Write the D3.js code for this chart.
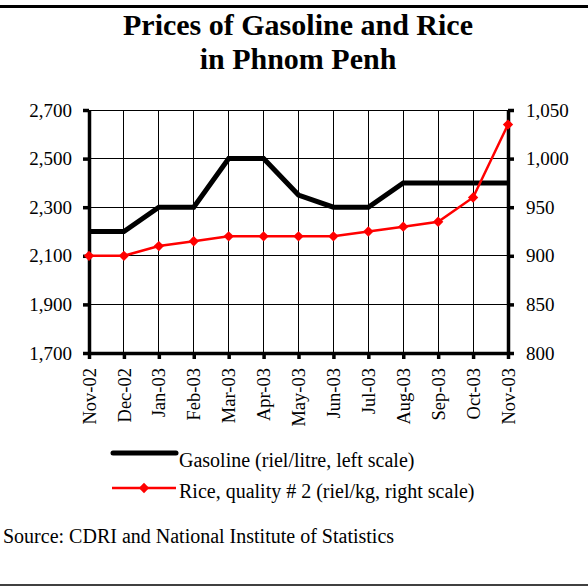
<!DOCTYPE html>
<html>
<head>
<meta charset="utf-8">
<title>Prices of Gasoline and Rice in Phnom Penh</title>
<script src="https://cdn.jsdelivr.net/npm/d3@7"></script>
<style>
body, html {
  margin: 0;
  background: #fff;
}
svg text {
  font-family: "Liberation Serif", "Times New Roman", serif;
  fill: #000;
}
.grid line {
  stroke: #000;
  stroke-width: 1px;
  shape-rendering: crispEdges;
}
.axis path, .axis line {
  stroke: #000;
  stroke-width: 3.5px;
}
.axis text {
  font-size: 19px;
}
.xaxis text {
  font-size: 18.5px;
}
</style>
</head>
<body>
<script>
// data
var months = ["Nov-02","Dec-02","Jan-03","Feb-03","Mar-03","Apr-03","May-03","Jun-03","Jul-03","Aug-03","Sep-03","Oct-03","Nov-03"];
var gasoline = [2200, 2200, 2300, 2300, 2500, 2500, 2350, 2300, 2300, 2400, 2400, 2400, 2400];
var rice = [900, 900, 910, 915, 920, 920, 920, 920, 925, 930, 935, 960, 1035];
var leftTicks = [1700, 1900, 2100, 2300, 2500, 2700];
var rightTicks = [800, 850, 900, 950, 1000, 1050];

var W = 588, H = 586;
var plot = {left: 89, right: 508, top: 110, bottom: 353};

var svg = d3.select("body").append("svg")
  .attr("width", W)
  .attr("height", H);

// frame lines top and bottom
svg.append("line").attr("x1", 0).attr("x2", W).attr("y1", 6.5).attr("y2", 6.5)
  .attr("stroke", "#000").attr("stroke-width", 3);
svg.append("line").attr("x1", 0).attr("x2", W).attr("y1", 585).attr("y2", 585)
  .attr("stroke", "#000").attr("stroke-width", 1.5);

// title
var title = svg.append("text")
  .attr("text-anchor", "middle")
  .style("font-size", "30px")
  .style("font-weight", "bold");
title.append("tspan").attr("x", 298).attr("y", 35).text("Prices of Gasoline and Rice");
title.append("tspan").attr("x", 298).attr("y", 69).text("in Phnom Penh");

var x = d3.scalePoint().domain(months).range([plot.left, plot.right]);
var yL = d3.scaleLinear().domain([1700, 2700]).range([plot.bottom, plot.top]);
var yR = d3.scaleLinear().domain([800, 1050]).range([plot.bottom, plot.top]);

// grid
var grid = svg.append("g").attr("class", "grid");
grid.selectAll(".v").data(months).enter().append("line")
  .attr("x1", function(d) { return x(d); })
  .attr("x2", function(d) { return x(d); })
  .attr("y1", plot.top).attr("y2", plot.bottom);
grid.selectAll(".h").data(leftTicks).enter().append("line")
  .attr("x1", plot.left).attr("x2", plot.right)
  .attr("y1", function(d) { return yL(d); })
  .attr("y2", function(d) { return yL(d); });

// axes
var fmt = d3.format(",");
svg.append("g").attr("class", "axis")
  .attr("transform", "translate(" + plot.left + ",0)")
  .call(d3.axisLeft(yL).tickValues(leftTicks).tickFormat(fmt).tickSizeInner(6).tickSizeOuter(0).tickPadding(11));
svg.append("g").attr("class", "axis")
  .attr("transform", "translate(" + plot.right + ",0)")
  .call(d3.axisRight(yR).tickValues(rightTicks).tickFormat(fmt).tickSizeInner(6).tickSizeOuter(0).tickPadding(12));
var xAxis = svg.append("g").attr("class", "axis xaxis")
  .attr("transform", "translate(0," + plot.bottom + ")")
  .call(d3.axisBottom(x).tickSizeInner(6).tickSizeOuter(0));
xAxis.selectAll("text")
  .attr("transform", "rotate(-90)")
  .attr("text-anchor", "end")
  .attr("x", -15)
  .attr("y", 0)
  .attr("dy", "0.33em");

// series
var gasLine = d3.line()
  .x(function(d, i) { return x(months[i]); })
  .y(function(d) { return yL(d); });
var riceLine = d3.line()
  .x(function(d, i) { return x(months[i]); })
  .y(function(d) { return yR(d); });

svg.append("path").datum(gasoline)
  .attr("d", gasLine)
  .attr("fill", "none")
  .attr("stroke", "#000")
  .attr("stroke-width", 5)
  .attr("stroke-linejoin", "miter");

svg.append("path").datum(rice)
  .attr("d", riceLine)
  .attr("fill", "none")
  .attr("stroke", "#ff0000")
  .attr("stroke-width", 2.5);

var diamond = d3.symbol().type(d3.symbolDiamond2).size(68);
svg.selectAll(".marker").data(rice).enter().append("path")
  .attr("class", "marker")
  .attr("d", diamond)
  .attr("transform", function(d, i) { return "translate(" + x(months[i]) + "," + yR(d) + ")"; })
  .attr("fill", "#ff0000");

// legend
var legend = svg.append("g");
legend.append("line").attr("x1", 113).attr("x2", 176).attr("y1", 453).attr("y2", 453)
  .attr("stroke", "#000").attr("stroke-width", 5).attr("stroke-linecap", "round");
legend.append("text").attr("x", 179).attr("y", 467).style("font-size", "20px")
  .text("Gasoline (riel/litre, left scale)");
legend.append("line").attr("x1", 112).attr("x2", 176).attr("y1", 488).attr("y2", 488)
  .attr("stroke", "#ff0000").attr("stroke-width", 2.5);
legend.append("path").attr("d", diamond)
  .attr("transform", "translate(144,488)")
  .attr("fill", "#ff0000");
legend.append("text").attr("x", 179).attr("y", 498).style("font-size", "20px")
  .text("Rice, quality # 2 (riel/kg, right scale)");

// source
svg.append("text").attr("x", 3).attr("y", 543).style("font-size", "20px")
  .text("Source: CDRI and National Institute of Statistics");
</script>
</body>
</html>
